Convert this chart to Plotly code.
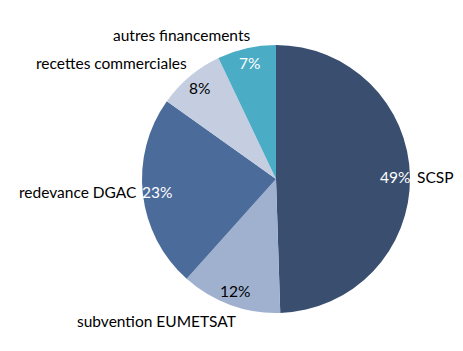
import numpy as np
import plotly.graph_objects as go

labels = ["SCSP", "subvention EUMETSAT", "redevance DGAC", "recettes commerciales", "autres financements"]
values = [49, 12, 23, 8, 7]
colors = ["#3a4f70", "#9fb1cf", "#4b6b9a", "#c5cee1", "#4bacc6"]
pct_colors = ["white", "black", "white", "black", "white"]

W, H = 463, 351
cx, cy, R = 276, 179, 134

fig = go.Figure(go.Pie(
    labels=labels, values=values, sort=False, direction="clockwise", rotation=0,
    marker=dict(colors=colors, line=dict(width=0)),
    textinfo="none", hoverinfo="label+percent", showlegend=False,
    domain=dict(x=[(cx - R) / W, (cx + R) / W], y=[(H - cy - R) / H, (H - cy + R) / H]),
))

vals = np.array(values, dtype=float)
frac = vals / vals.sum()
cum = np.cumsum(frac) - frac / 2
theta = cum * 2 * np.pi

# name label offsets relative to percentage label (pixels), and anchor
name_off = [(20, 0, "left"), (-79, 30, "center"), (-18, 0, "right"), (-10, -25, "right"), (-68, -28, "center")]

font = "Lato"
fs = 15.5
for i, lab in enumerate(labels):
    px = cx + 0.89 * R * np.sin(theta[i])
    py = cy - 0.89 * R * np.cos(theta[i])
    fig.add_annotation(x=px / W, y=1 - py / H, xref="paper", yref="paper",
                       text=f"{round(frac[i] * 100):d}%", showarrow=False,
                       font=dict(family=font, size=fs, color=pct_colors[i]),
                       xanchor="center", yanchor="middle")
    dx, dy, xa = name_off[i]
    fig.add_annotation(x=(px + dx) / W, y=1 - (py + dy) / H, xref="paper", yref="paper",
                       text=lab, showarrow=False,
                       font=dict(family=font, size=fs, color="black"),
                       xanchor=xa, yanchor="middle")

fig.update_layout(width=W, height=H, margin=dict(l=0, r=0, t=0, b=0),
                  paper_bgcolor="white", plot_bgcolor="white")
fig.write_html("out.html")
